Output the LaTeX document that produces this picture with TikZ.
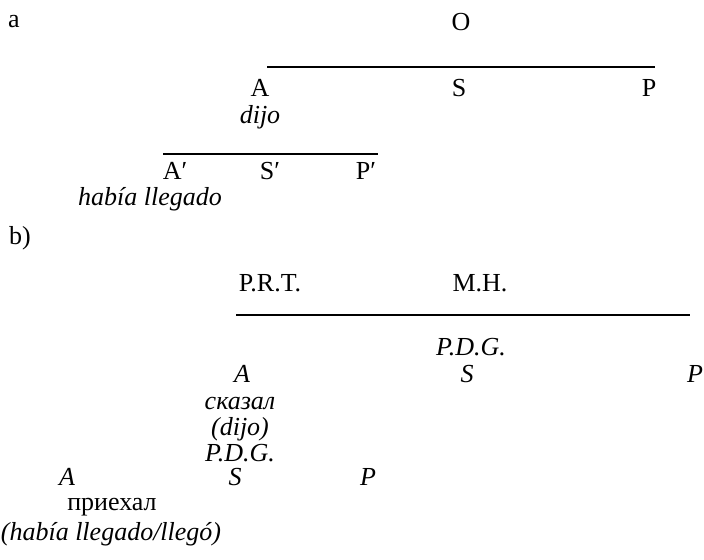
\documentclass[tikz,border=0pt]{standalone}
\usepackage{fontspec}
\setmainfont{Liberation Serif}
\usetikzlibrary{positioning}
\tikzset{
  lab/.style={inner sep=0pt,font=\fontsize{13}{15}\selectfont},
  ilab/.style={inner sep=0pt,font=\fontsize{13}{15}\selectfont\itshape},
  axis/.style={line width=0.7pt}
}

\begin{document}
\begin{tikzpicture}[x=0.5pt,y=-0.5pt]
  \useasboundingbox (0,0) rectangle (704,559);
  % a
  \node[lab] (tagA) at (14,22) {a};
  \node[lab] (o) at (461,22) {O};
  \coordinate (axA0) at (267,67);
  \coordinate (axA1) at (655,67);
  \draw[axis] (axA0) -- (axA1);
  \node[lab] (aA) at (260,88) {A};
  \node[lab] (aS) at (459,88) {S};
  \node[lab] (aP) at (649,88) {P};
  \node[ilab] (dijoA) at (260,117) {dijo};
  \coordinate (axB0) at (163,154);
  \coordinate (axB1) at (378,154);
  \draw[axis] (axB0) -- (axB1);
  \node[lab] (bA) at (175,171) {A′};
  \node[lab] (bS) at (270,171) {S′};
  \node[lab] (bP) at (366,171) {P′};
  \node[ilab] (hablleg) at (150,199) {había llegado};
  % b)
  \node[lab] (tagB) at (20,238) {b)};
  \node[lab] (prt) at (270,283) {P.R.T.};
  \node[lab] (mh) at (480,283) {M.H.};
  \coordinate (axC0) at (236,315);
  \coordinate (axC1) at (690,315);
  \draw[axis] (axC0) -- (axC1);
  \node[ilab] (pdgA) at (471,347) {P.D.G.};
  \node[ilab] (cA) at (242,374) {A};
  \node[ilab] (cS) at (467,374) {S};
  \node[ilab] (cP) at (695,374) {P};
  \node[ilab] (skazal) at (240,403) {сказал};
  \node[ilab] (dijoB) at (240,429) {(dijo)};
  \node[ilab] (pdgB) at (240,453) {P.D.G.};
  \node[ilab] (dA) at (67,477) {A};
  \node[ilab] (dS) at (235,477) {S};
  \node[ilab] (dP) at (368,477) {P};
  \node[lab] (priekhal) at (112,507) {приехал};
  \node[ilab] (llego) at (111,534) {(había llegado/llegó)};
\end{tikzpicture}
\end{document}
